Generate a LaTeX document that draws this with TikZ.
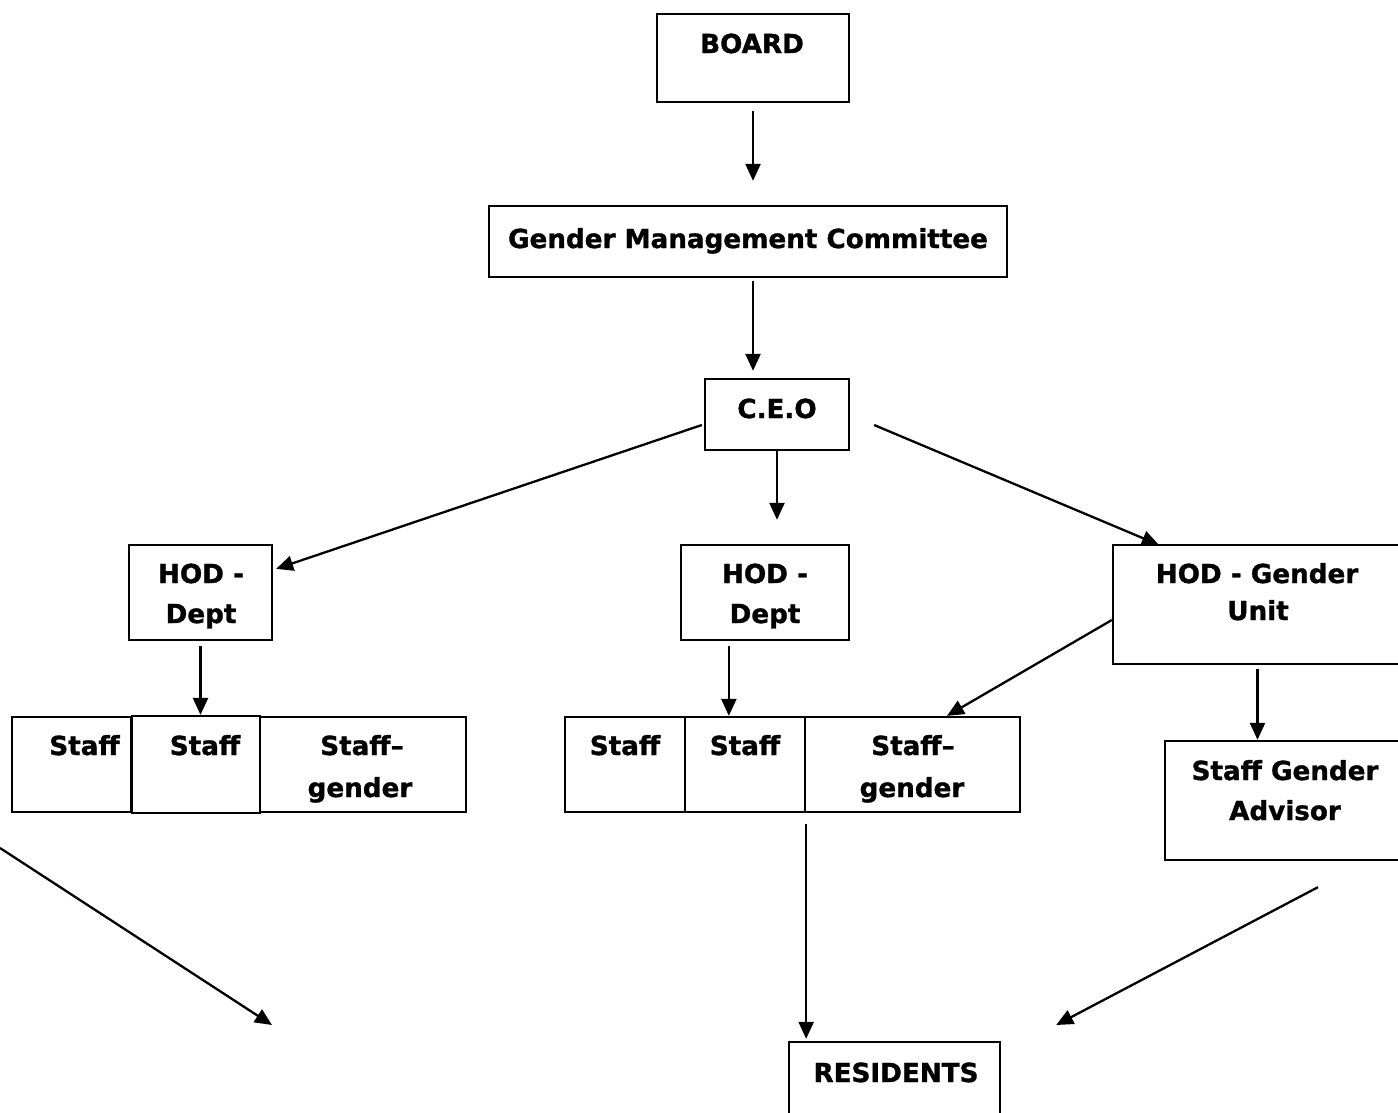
\documentclass[tikz,border=0pt]{standalone}
\usepackage{fontspec}
\setmainfont{DejaVu Sans}[BoldFeatures={FakeBold=1.2}]
\usetikzlibrary{arrows.meta,calc}
\begin{document}
\begin{tikzpicture}[x=1pt,y=-1pt,
  box/.style={draw=black,line width=2.3pt,inner sep=0pt,fill=none},
  txt/.style={anchor=base,inner sep=0pt,font=\fontsize{26.2}{32}\selectfont\bfseries},
  arr/.style={line width=2.3pt,-{Triangle[length=17pt,width=15pt]}}]
\useasboundingbox (0,0) rectangle (1398,1112);
% boxes
\node[box,minimum width=192,minimum height=88] (board) at (753,58) {};
\node[box,minimum width=518,minimum height=71] (gmc) at (748,241.5) {};
\node[box,minimum width=144,minimum height=71] (ceo) at (777,414.5) {};
\node[box,minimum width=143,minimum height=95] (hodL) at (200.5,592.5) {};
\node[box,minimum width=168,minimum height=95] (hodM) at (765,592.5) {};
\node[box,minimum width=289,minimum height=119] (hodG) at (1257.5,604.5) {};
\node[box,minimum width=119,minimum height=95] (sL1) at (71.5,764.5) {};
\node[box,minimum width=128,minimum height=97] (sL2) at (196,764.5) {};
\node[box,minimum width=206,minimum height=95] (sL3) at (363,764.5) {};
\node[box,minimum width=120,minimum height=95] (sM1) at (625,764.5) {};
\node[box,minimum width=120,minimum height=95] (sM2) at (745,764.5) {};
\node[box,minimum width=215,minimum height=95] (sM3) at (912.5,764.5) {};
\node[box,minimum width=237,minimum height=119] (sga) at (1283.5,800.5) {};
\node[box,minimum width=211,minimum height=74] (res) at (894.5,1079) {};
% texts
\node[txt] (tboard) at (752,53) {BOARD};
\node[txt] (tgmc) at (748,248) {Gender Management Committee};
\node[txt] (tceo) at (777,418) {C.E.O};
\node[txt] (thodLa) at (201,583) {HOD -};
\node[txt] (thodLb) at (201,623) {Dept};
\node[txt] (thodMa) at (765,583) {HOD -};
\node[txt] (thodMb) at (765,623) {Dept};
\node[txt] (thodGa) at (1257,583) {HOD - Gender};
\node[txt] (thodGb) at (1258,620) {Unit};
\node[txt] (tsL1) at (84.5,755) {Staff};
\node[txt] (tsL2) at (205,755) {Staff};
\node[txt] (tsL3a) at (362,755) {Staff–};
\node[txt] (tsL3b) at (360,797) {gender};
\node[txt] (tsM1) at (625,755) {Staff};
\node[txt] (tsM2) at (745,755) {Staff};
\node[txt] (tsM3a) at (913,755) {Staff–};
\node[txt] (tsM3b) at (912,797) {gender};
\node[txt] (tsgaa) at (1285,780) {Staff Gender};
\node[txt] (tsgab) at (1285,820) {Advisor};
\node[txt] (tres) at (896,1082) {RESIDENTS};
% free and helper coordinates
\coordinate (fL1) at (0,848);
\coordinate (fL2) at (272,1025);
\coordinate (fR1) at ($(sga.south)+(34.5,26)$);
\coordinate (fR2) at ($(res.east)+(55,-54)$);
\coordinate (hm) at ($(hodM.south west)+(49,0)$);
\coordinate (cl) at ($(ceo.west)+(-2,10.5)$);
\coordinate (cr) at ($(ceo.east)+(24,10.5)$);
\coordinate (hl) at ($(hodL.north east)+(3,25)$);
\coordinate (hg) at ($(hodG.north west)+(47,1)$);
\coordinate (gw) at ($(hodG.west)+(0,15.5)$);
\coordinate (s3) at ($(sM3.north)+(34.5,0)$);
% connectors
\draw[arr,shorten <=8pt,shorten >=24pt] (board.south) -- (board.south |- gmc.north);
\draw[arr,shorten <=3pt,shorten >=7pt] (board.south |- gmc.south) -- (board.south |- ceo.north);
\draw[arr,shorten >=24pt] (ceo.south) -- (ceo.south |- hodM.north);
\draw[arr] (cl) -- (hl);
\draw[arr] (cr) -- (hg);
\draw[arr,shorten <=5pt] (hodL.south) -- (hodL.south |- sL2.north);
\draw[arr,shorten <=5pt] (hm) -- (hm |- sM2.north);
\draw[arr] (gw) -- (s3);
\draw[arr,shorten <=4pt] (hodG.south) -- (hodG.south |- sga.north);
\draw[arr] (fL1) -- (fL2);
\draw[arr,shorten <=11pt,shorten >=2pt] (sM2.south east) -- (sM2.south east |- res.north);
\draw[arr] (fR1) -- (fR2);
\end{tikzpicture}
\end{document}
